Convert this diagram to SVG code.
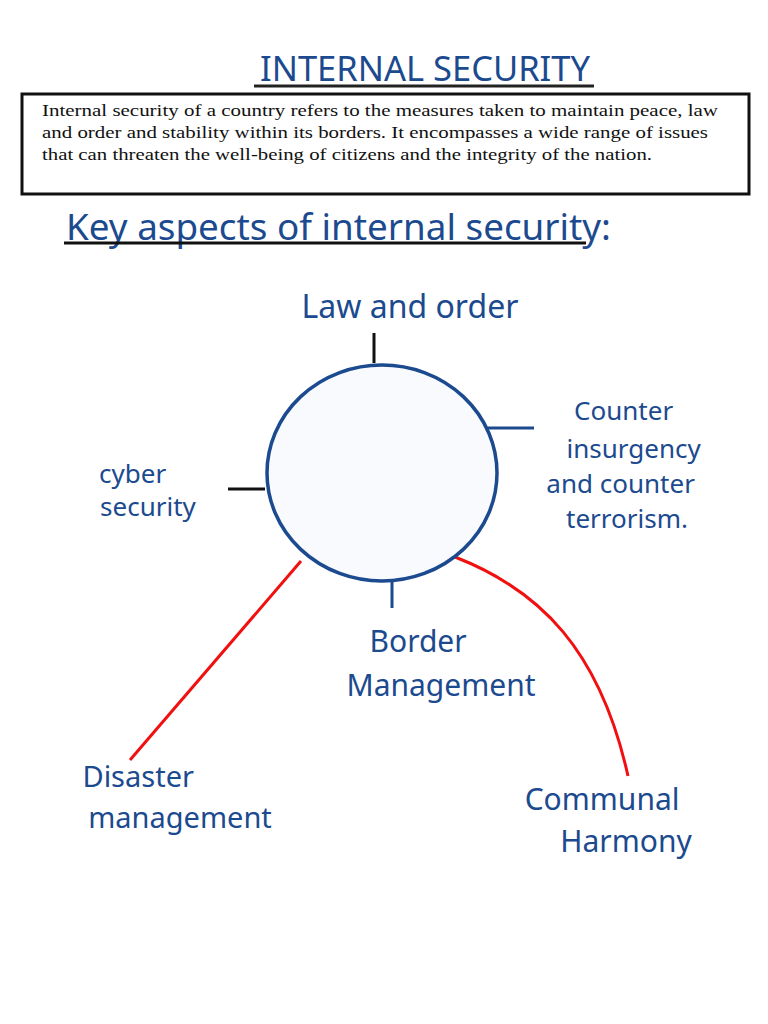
<svg xmlns="http://www.w3.org/2000/svg" width="768" height="1024" viewBox="0 0 768 1024">
<style>
.hw{font-family:"Noto Sans","DejaVu Sans",sans-serif;fill:#1c4a8f;}
.body{font-family:"Liberation Serif","Times New Roman",serif;font-size:17.5px;fill:#111;}
.blk{stroke:#111;stroke-width:3;fill:none;}
.blu{stroke:#1c4a8f;stroke-width:3;fill:none;}
.red{stroke:#f01010;stroke-width:3;fill:none;}
</style>
<rect width="768" height="1024" fill="#ffffff"/>
<g id="title">
<text class="hw" x="425" y="81" font-size="34" text-anchor="middle" textLength="330" lengthAdjust="spacingAndGlyphs">INTERNAL SECURITY</text>
<line x1="254" y1="86" x2="594" y2="86" stroke="#222" stroke-width="3"/>
</g>
<g id="definition">
<rect x="22" y="94" width="727" height="100" class="blk"/>
<text class="body" x="42" y="116" textLength="676" lengthAdjust="spacingAndGlyphs">Internal security of a country refers to the measures taken to maintain peace, law</text>
<text class="body" x="42" y="138" textLength="666" lengthAdjust="spacingAndGlyphs">and order and stability within its borders. It encompasses a wide range of issues</text>
<text class="body" x="42" y="160" textLength="610" lengthAdjust="spacingAndGlyphs">that can threaten the well-being of citizens and the integrity of the nation.</text>
</g>
<g id="subtitle">
<text class="hw" x="66" y="240" font-size="36" textLength="545" lengthAdjust="spacingAndGlyphs">Key aspects of internal security:</text>
<line x1="64" y1="243" x2="586" y2="243" stroke="#111" stroke-width="3"/>
</g>
<g id="connectors">
<line x1="374" y1="333" x2="374" y2="363" class="blk"/>
<line x1="485" y1="428" x2="534" y2="428" class="blu"/>
<line x1="228" y1="489" x2="265" y2="489" class="blk"/>
<line x1="392" y1="582" x2="392" y2="608" class="blu"/>
<path d="M301,561 L130,760" class="red"/>
<path d="M455,557 C540,590 600,650 628,776" class="red"/>
</g>
<g id="center">
<ellipse cx="382" cy="473" rx="115" ry="108" fill="#f8fafd" stroke="#1c4a8f" stroke-width="3.5"/>
</g>
<g id="law-and-order">
<text class="hw" x="410" y="318" font-size="32" text-anchor="middle">Law and order</text>
</g>
<g id="counter-terrorism">
<text class="hw" font-size="26" text-anchor="middle">
<tspan x="627" y="420">Counter</tspan>
<tspan x="637" y="458">insurgency</tspan>
<tspan x="624" y="493">and counter</tspan>
<tspan x="627" y="528">terrorism.</tspan>
</text>
</g>
<g id="cyber-security">
<text class="hw" font-size="26" text-anchor="middle">
<tspan x="136" y="483">cyber</tspan>
<tspan x="148" y="516">security</tspan>
</text>
</g>
<g id="border-management">
<text class="hw" font-size="30" text-anchor="middle">
<tspan x="422" y="652">Border</tspan>
<tspan x="441" y="696">Management</tspan>
</text>
</g>
<g id="disaster-management">
<text class="hw" font-size="29" text-anchor="middle">
<tspan x="142" y="787">Disaster</tspan>
<tspan x="180" y="828">management</tspan>
</text>
</g>
<g id="communal-harmony">
<text class="hw" font-size="30" text-anchor="middle">
<tspan x="606" y="810">Communal</tspan>
<tspan x="626" y="852">Harmony</tspan>
</text>
</g>
</svg>
